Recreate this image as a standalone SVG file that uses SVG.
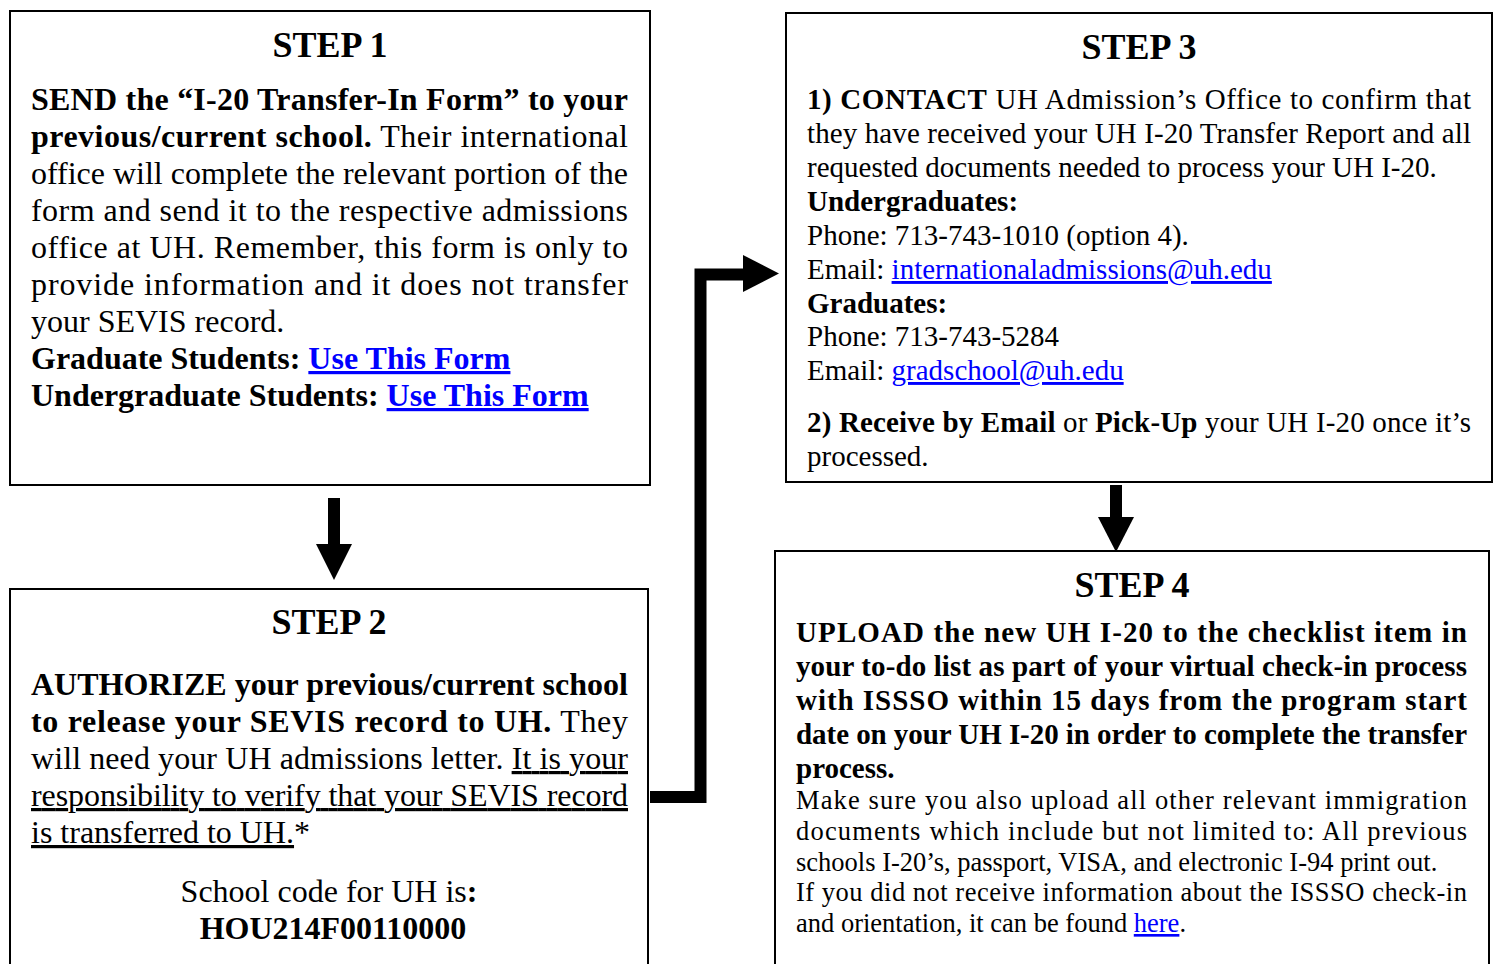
<svg xmlns="http://www.w3.org/2000/svg" width="1494" height="964" viewBox="0 0 1494 964">
<style>
text{font-family:"Liberation Serif","Times New Roman",serif;fill:#000}
.box{fill:#fff;stroke:#000;stroke-width:2}
.title{font-size:36px;font-weight:bold;text-anchor:middle}
.s1{font-size:32px}
.s3{font-size:29px}
.s4b{font-size:29px;font-weight:bold}
.s4{font-size:26.5px}
.b{font-weight:bold}
.lnk{fill:#0000FF;text-decoration:underline}
.u{text-decoration:underline}
.arr{fill:#000}
</style>
<rect width="1494" height="964" fill="#fff"/>

<g id="step1">
<rect class="box" x="10" y="11" width="640" height="474"/>
<text class="title" x="330" y="57">STEP 1</text>
<text class="s1 b" x="31" y="110" textLength="597" lengthAdjust="spacing">SEND the “I-20 Transfer-In Form” to your</text>
<text class="s1" x="31" y="147" textLength="597" lengthAdjust="spacing"><tspan class="b">previous/current school.</tspan> Their international</text>
<text class="s1" x="31" y="184" textLength="597" lengthAdjust="spacing">office will complete the relevant portion of the</text>
<text class="s1" x="31" y="221" textLength="597" lengthAdjust="spacing">form and send it to the respective admissions</text>
<text class="s1" x="31" y="258" textLength="597" lengthAdjust="spacing">office at UH. Remember, this form is only to</text>
<text class="s1" x="31" y="295" textLength="597" lengthAdjust="spacing">provide information and it does not transfer</text>
<text class="s1" x="31" y="332">your SEVIS record.</text>
<text class="s1 b" x="31" y="369">Graduate Students: <tspan class="lnk">Use This Form</tspan></text>
<text class="s1 b" x="31" y="406">Undergraduate Students: <tspan class="lnk">Use This Form</tspan></text>
</g>

<g id="step2">
<rect class="box" x="10" y="589" width="638" height="400"/>
<text class="title" x="329" y="634">STEP 2</text>
<text class="s1 b" x="31" y="695" textLength="597" lengthAdjust="spacing">AUTHORIZE your previous/current school</text>
<text class="s1" x="31" y="732" textLength="597" lengthAdjust="spacing"><tspan class="b">to release your SEVIS record to UH.</tspan> They</text>
<text class="s1" x="31" y="769" textLength="597" lengthAdjust="spacing">will need your UH admissions letter. <tspan class="u">It is your</tspan></text>
<text class="s1 u" x="31" y="806" textLength="597" lengthAdjust="spacing">responsibility to verify that your SEVIS record</text>
<text class="s1" x="31" y="843"><tspan class="u">is transferred to UH.</tspan>*</text>
<text class="s1" x="329" y="902" text-anchor="middle">School code for UH is<tspan class="b">:</tspan></text>
<text class="s1 b" x="333" y="939" text-anchor="middle">HOU214F00110000</text>
</g>

<g id="step3">
<rect class="box" x="786" y="13" width="706" height="469"/>
<text class="title" x="1139" y="59">STEP 3</text>
<text class="s3" x="807" y="109" textLength="664" lengthAdjust="spacing"><tspan class="b">1) CONTACT</tspan> UH Admission’s Office to confirm that</text>
<text class="s3" x="807" y="143" textLength="664" lengthAdjust="spacing">they have received your UH I-20 Transfer Report and all</text>
<text class="s3" x="807" y="177">requested documents needed to process your UH I-20.</text>
<text class="s3 b" x="807" y="211">Undergraduates:</text>
<text class="s3" x="807" y="245">Phone: 713-743-1010 (option 4).</text>
<text class="s3" x="807" y="279">Email: <tspan class="lnk">internationaladmissions@uh.edu</tspan></text>
<text class="s3 b" x="807" y="313">Graduates:</text>
<text class="s3" x="807" y="346">Phone: 713-743-5284</text>
<text class="s3" x="807" y="380">Email: <tspan class="lnk">gradschool@uh.edu</tspan></text>
<text class="s3" x="807" y="432" textLength="664" lengthAdjust="spacing"><tspan class="b">2) Receive by Email</tspan> or <tspan class="b">Pick-Up</tspan> your UH I-20 once it’s</text>
<text class="s3" x="807" y="466">processed.</text>
</g>

<g id="step4">
<rect class="box" x="775" y="551" width="714" height="420"/>
<text class="title" x="1132" y="597">STEP 4</text>
<text class="s4b" x="796" y="642" textLength="671" lengthAdjust="spacing">UPLOAD the new UH I-20 to the checklist item in</text>
<text class="s4b" x="796" y="676" textLength="671" lengthAdjust="spacing">your to-do list as part of your virtual check-in process</text>
<text class="s4b" x="796" y="710" textLength="671" lengthAdjust="spacing">with ISSSO within 15 days from the program start</text>
<text class="s4b" x="796" y="744" textLength="671" lengthAdjust="spacing">date on your UH I-20 in order to complete the transfer</text>
<text class="s4b" x="796" y="778">process.</text>
<text class="s4" x="796" y="809" textLength="671" lengthAdjust="spacing">Make sure you also upload all other relevant immigration</text>
<text class="s4" x="796" y="840" textLength="671" lengthAdjust="spacing">documents which include but not limited to: All previous</text>
<text class="s4" x="796" y="871">schools I-20’s, passport, VISA, and electronic I-94 print out.</text>
<text class="s4" x="796" y="901" textLength="671" lengthAdjust="spacing">If you did not receive information about the ISSSO check-in</text>
<text class="s4" x="796" y="932">and orientation, it can be found <tspan class="lnk">here</tspan>.</text>
</g>

<g id="connectors">
<rect class="arr" x="328" y="498" width="12" height="47"/>
<polygon class="arr" points="316,544 352,544 334,580"/>
<polyline points="650,797 700.5,797 700.5,274.5 744,274.5" fill="none" stroke="#000" stroke-width="12"/>
<polygon class="arr" points="743,255 779,273.5 743,292"/>
<rect class="arr" x="1110" y="485" width="12" height="33"/>
<polygon class="arr" points="1098,517 1134,517 1116,552"/>
</g>
</svg>
